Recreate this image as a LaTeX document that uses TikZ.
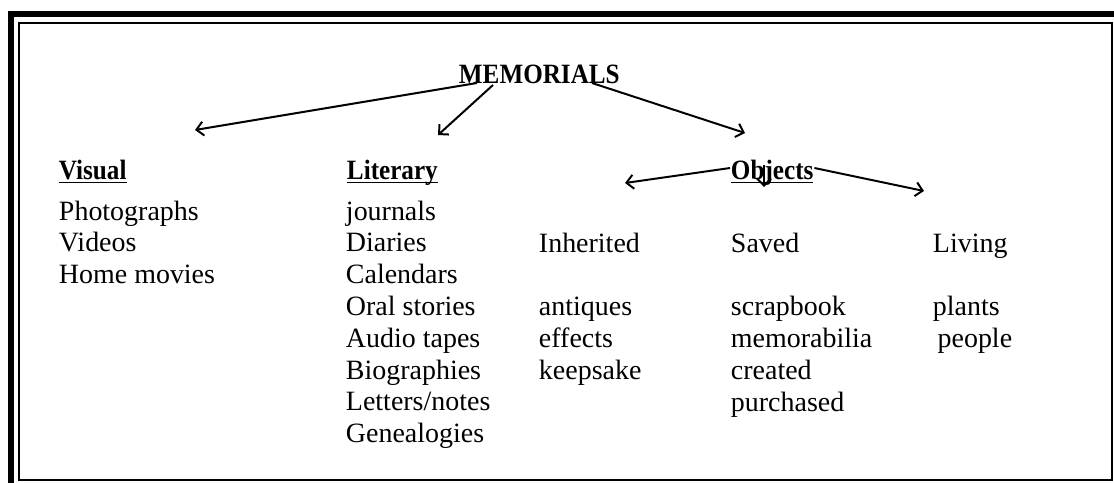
\documentclass[tikz,border=0pt]{standalone}
\usepackage{graphicx}
\usepackage{fontspec}
\setmainfont{Liberation Serif}
\usetikzlibrary{calc}
\usetikzlibrary{positioning}
\usetikzlibrary{arrows.meta}

% bold, a little narrow, underlined at a fixed depth
\newcommand{\headtxt}[1]{\underline{\vphantom{V}\smash{\scalebox{0.9}[1]{\bfseries #1}}}}

\begin{document}
\begin{tikzpicture}[x=0.01509cm, y=-0.01509cm, >={Straight Barb[length=3pt,width=6pt]}, line width=0.85pt, font=\fontsize{12}{13.65}\selectfont]
    \tikzstyle{head}=[inner sep=0pt, anchor=base west]
    \tikzstyle{list}=[inner sep=0pt, anchor=base west, align=left] % base = last line
    \useasboundingbox (0,0) rectangle (1114,483);

    % frame
    \draw[line width=2.6pt] (11,483) -- (11,14) -- (1114,14);
    \draw[line width=0.6pt] (19,23) rectangle (1112,480);

    \node[head] (mem) at (458,83) {\scalebox{0.9}[1]{\bfseries MEMORIALS}};
    \node[head] (hvis) at (58,179) {\headtxt{Visual}};
    \node[head] (hlit) at (346,179) {\headtxt{Literary}};
    \node[head] (hobj) at (730,179) {\headtxt{Objects}};

    \node[list] (vis) at (58,283.6) {Photographs\\Videos\\Home movies};
    \node[list] (lit) at (345,442.6) {journals\\Diaries\\Calendars\\Oral stories\\Audio tapes\\Biographies\\Letters/notes\\Genealogies};
    \node[list] (inh) at (538,379.2) {Inherited\\[13.65pt]antiques\\effects\\keepsake};
    \node[list] (sav) at (730,411) {Saved\\[13.65pt]scrapbook\\memorabilia\\created\\purchased};
    \node[list] (liv) at (932,347.4) {Living\\[13.65pt]plants\\\hspace{2pt}people};

    \coordinate (visEnd) at (195,130);
    \coordinate (litEnd) at (438,135);
    \coordinate (objEnd) at (745,133);
    \coordinate (inhEnd) at (625,183);
    \coordinate (savEnd) at (764,187);
    \coordinate (livEnd) at (924,191);

    \draw[->] ($(mem.base west)+(19,0)$) -- (visEnd);
    \draw[->] ($(mem.base west)+(35,2)$) -- (litEnd);
    \draw[->] ($(mem.base west)+(134,0)$) -- (objEnd);

    \draw[->] ($(hobj.base west)+(0,-11)$) -- (inhEnd);
    \draw[->] ($(hobj.base west)+(34,-14)$) -- (savEnd);
    \draw[->] ($(hobj.base east)+(0,-11)$) -- (livEnd);
\end{tikzpicture}
\end{document}
